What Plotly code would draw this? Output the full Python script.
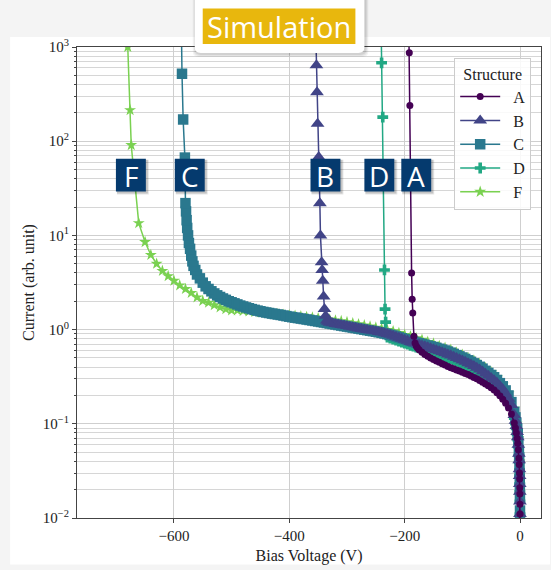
import plotly.graph_objects as go

# ---------------- data ----------------
LOWV = [-0.01, -0.05, -0.1, -0.2, -0.35, -0.5, -0.75, -1, -1.5, -2, -3, -4, -5, -6.5, -8]

A_v = LOWV + [-10, -15, -20, -25, -30, -35, -40, -45, -50, -55, -60, -65, -70, -75, -80, -85, -90,
              -95, -100, -105, -110, -115, -120, -125, -130, -135, -140, -145, -150, -155, -160,
              -165, -170, -175, -178, -180, -182, -184, -186, -187, -188, -191, -192, -193]
A_i = [0.005, 0.008, 0.011, 0.014, 0.018, 0.021, 0.026, 0.03, 0.037, 0.043, 0.053, 0.062, 0.07,
       0.08, 0.09,
       0.102, 0.127, 0.147, 0.165, 0.182, 0.198, 0.213, 0.228, 0.241, 0.253, 0.265, 0.276, 0.288,
       0.3, 0.311, 0.322, 0.333, 0.343, 0.353, 0.363, 0.373, 0.383, 0.394, 0.406, 0.42, 0.434,
       0.449, 0.465, 0.481, 0.5, 0.52, 0.545, 0.575, 0.61, 0.64, 0.67, 0.72, 0.85, 1.5, 2.1, 4.0,
       240, 870, 2000]

B_v = LOWV + [-10, -15, -20, -25, -30, -35, -40, -45, -50, -55, -60, -65, -70, -75, -80, -85, -90,
              -95, -100, -105, -110, -115, -120, -125, -130, -135, -140, -145, -150, -155, -160,
              -165, -170, -175, -180, -185, -190, -195, -200, -205, -210, -215, -220, -225, -230,
              -235, -240, -245, -250, -255, -260, -265, -270, -275, -280, -285, -290, -295, -300,
              -305, -310, -315, -320, -325, -330, -333, -335, -337, -339, -340.5, -342, -343, -344,
              -346, -347, -349, -351, -352, -353, -354]
B_i = [0.005, 0.008, 0.011, 0.015, 0.019, 0.023, 0.028, 0.033, 0.041, 0.048, 0.06, 0.072, 0.082,
       0.095, 0.108,
       0.124, 0.158, 0.185, 0.21, 0.232, 0.252, 0.272, 0.29, 0.307, 0.323, 0.34, 0.36, 0.377,
       0.393, 0.41, 0.425, 0.44, 0.455, 0.47, 0.485, 0.5, 0.515, 0.53, 0.545, 0.56, 0.575, 0.59,
       0.605, 0.62, 0.635, 0.65, 0.665, 0.68, 0.695, 0.71, 0.725, 0.74, 0.76, 0.78, 0.8, 0.82,
       0.84, 0.86, 0.88, 0.9, 0.915, 0.93, 0.945, 0.96, 0.97, 0.98, 0.99, 1.0, 1.015, 1.03,
       1.045, 1.06, 1.075, 1.09, 1.105, 1.12, 1.135, 1.15, 1.165, 1.18, 1.21, 1.25, 1.4, 1.65,
       2.25, 3.3, 4.3, 5.2, 10, 22, 68, 153, 330, 640, 1300]

C_v = LOWV + [-10, -15, -20, -25, -30, -35, -40, -45, -50, -55, -60, -65, -70, -75, -80, -85, -90,
              -95, -100, -105, -110, -115, -120, -125, -130, -135, -140, -145, -150, -155, -160,
              -165, -170, -175, -180, -185, -190, -195, -200, -205, -210, -215, -220, -225, -230,
              -235, -240, -245, -250, -255, -260, -265, -270, -275, -280, -285, -290, -295, -300,
              -305, -310, -315, -320, -325, -330, -335, -340, -345, -350, -355, -360, -365, -370,
              -375, -380, -385, -390, -395, -400, -405, -410, -415, -420, -425, -430, -435, -440,
              -445, -450, -455, -460, -465, -470, -475, -480, -485, -490, -495, -500, -505, -510,
              -515, -520, -525, -530, -535, -540, -545, -550, -555, -560, -563, -566, -568, -570,
              -572, -574, -575.5, -577, -578, -579, -580, -581, -584, -586, -587, -588]
C_i = [0.006, 0.009, 0.012, 0.016, 0.021, 0.025, 0.03, 0.036, 0.044, 0.052, 0.065, 0.078, 0.089,
       0.103, 0.117,
       0.134, 0.17, 0.2, 0.226, 0.25, 0.27, 0.292, 0.312, 0.33, 0.347, 0.365, 0.385, 0.403, 0.42,
       0.438, 0.455, 0.472, 0.488, 0.505, 0.52, 0.536, 0.552, 0.568, 0.584, 0.6, 0.613, 0.626,
       0.64, 0.652, 0.664, 0.677, 0.69, 0.703, 0.716, 0.729, 0.742, 0.758, 0.775, 0.793, 0.81,
       0.828, 0.846, 0.864, 0.88, 0.895, 0.91, 0.924, 0.937, 0.95, 0.962, 0.974, 0.986, 0.999,
       1.012, 1.025, 1.038, 1.051, 1.064, 1.077, 1.09, 1.104, 1.118, 1.132, 1.146, 1.16, 1.175,
       1.19, 1.205, 1.22, 1.235, 1.25, 1.265, 1.28, 1.295, 1.31, 1.325, 1.34, 1.355, 1.372, 1.39,
       1.41, 1.43, 1.446, 1.463, 1.48, 1.5, 1.52, 1.54, 1.565, 1.59, 1.62, 1.65, 1.685, 1.72,
       1.76, 1.8, 1.85, 1.9, 1.95, 2.0, 2.07, 2.14, 2.22, 2.31, 2.42, 2.55, 2.7, 2.88, 3.15, 3.5,
       3.85, 4.3, 4.75, 5.3, 6.1, 7.2, 8.3, 10, 12, 14.5, 18, 22, 67, 170, 520, 1500]

D_v = LOWV + [-10, -15, -20, -25, -30, -35, -40, -45, -50, -55, -60, -65, -70, -75, -80, -85, -90,
              -95, -100, -105, -110, -115, -120, -125, -130, -135, -140, -145, -150, -155, -160,
              -165, -170, -175, -180, -185, -190, -195, -200, -205, -210, -215, -220, -225, -230,
              -232, -233, -234, -235, -238, -240, -241]
D_i = [0.005, 0.008, 0.011, 0.015, 0.019, 0.023, 0.028, 0.032, 0.039, 0.046, 0.057, 0.068, 0.077,
       0.089, 0.1,
       0.115, 0.146, 0.171, 0.194, 0.214, 0.232, 0.25, 0.267, 0.283, 0.298, 0.313, 0.331, 0.347,
       0.362, 0.377, 0.391, 0.405, 0.419, 0.432, 0.446, 0.46, 0.474, 0.488, 0.501, 0.515, 0.529,
       0.543, 0.557, 0.57, 0.584, 0.598, 0.612, 0.626, 0.64, 0.653, 0.667, 0.681, 0.7, 0.718,
       0.736, 0.754, 0.773, 0.791, 0.81, 0.83, 0.88, 1.2, 1.65, 4.3, 180, 680, 2000]

F_v = [-0.02, -0.2, -1, -3, -6, -10, -20, -30, -40, -50, -60, -70, -80, -90, -100, -110, -120,
       -130, -140, -150, -160, -170, -180, -190, -200, -210, -220, -230, -240, -250, -260, -270,
       -280, -290, -300, -310, -320, -330, -340, -350, -360, -370, -380, -390, -400, -410, -420,
       -430, -440, -450, -460, -470, -480, -490, -500, -510, -520, -530, -540, -550, -560, -570,
       -580, -590, -600, -610, -620, -630, -640, -650, -661, -674, -676, -680]
F_i = [0.006, 0.017, 0.04, 0.07, 0.1, 0.145, 0.21, 0.26, 0.31, 0.35, 0.39, 0.43, 0.47, 0.5, 0.54,
       0.57, 0.61, 0.64, 0.67, 0.71, 0.74, 0.78, 0.81, 0.85, 0.88, 0.92, 0.96, 0.99, 1.02, 1.05,
       1.08, 1.11, 1.14, 1.17, 1.2, 1.23, 1.25, 1.28, 1.3, 1.32, 1.34, 1.36, 1.38, 1.4, 1.42,
       1.44, 1.46, 1.48, 1.5, 1.52, 1.54, 1.56, 1.58, 1.6, 1.6, 1.65, 1.72, 1.82, 1.93, 2.02, 2.2,
       2.45, 2.7, 2.95, 3.3, 3.7, 4.2, 5.0, 6.2, 8.5, 13.5, 91, 214, 1000]

names = ["A", "B", "C", "D", "F"]
colors = {"A": "#440154", "B": "#414487", "C": "#2a788e", "D": "#22a884", "F": "#7ad151"}
symbols = {"A": "circle", "B": "triangle-up", "C": "square", "D": "cross", "F": "star"}
msize = {"A": 7, "B": 12, "C": 10.5, "D": 9, "F": 9}
series = {"A": (A_v, A_i), "B": (B_v, B_i), "C": (C_v, C_i), "D": (D_v, D_i), "F": (F_v, F_i)}

x_ticks = [-600, -400, -200, 0]
x_ticktext = ["\u2212600", "\u2212400", "\u2212200", "0"]
y_ticks = [0.01, 0.1, 1, 10, 100, 1000]
y_ticktext = ["10<sup>\u22122</sup>", "10<sup>\u22121</sup>", "10<sup>0</sup>",
              "10<sup>1</sup>", "10<sup>2</sup>", "10<sup>3</sup>"]

SERIF = "Liberation Serif, DejaVu Serif, serif"
SANS = "Open Sans, Noto Sans, sans-serif"

fig = go.Figure()
for n in ["F", "D", "C", "B", "A"]:
    v, i = series[n]
    fig.add_trace(go.Scatter(
        x=v, y=i, name="\u2002" + n, mode="lines+markers",
        line=dict(color=colors[n], width=1.5),
        marker=dict(symbol=symbols[n], size=msize[n], color=colors[n], line=dict(width=0)),
    ))

# ---------------- layout geometry (pixels -> paper) ----------------
L, R, T, B = 77, 542, 47, 523
def px(x):
    return (x - L) / (R - L)
def py(y):
    return (B - y) / (B - T)

shapes = []
shapes.append(dict(type="rect", xref="paper", yref="paper", x0=px(10), x1=px(551),
                   y0=py(37), y1=py(570), fillcolor="white", line=dict(width=0), layer="below"))

def rrect_path(x0, y0, x1, y1, r):
    X = lambda a: f"{px(a):.5f}"
    Y = lambda b: f"{py(b):.5f}"
    return (f"M {X(x0+r)},{Y(y0)} L {X(x1-r)},{Y(y0)} Q {X(x1)},{Y(y0)} {X(x1)},{Y(y0+r)} "
            f"L {X(x1)},{Y(y1-r)} Q {X(x1)},{Y(y1)} {X(x1-r)},{Y(y1)} "
            f"L {X(x0+r)},{Y(y1)} Q {X(x0)},{Y(y1)} {X(x0)},{Y(y1-r)} "
            f"L {X(x0)},{Y(y0+r)} Q {X(x0)},{Y(y0)} {X(x0+r)},{Y(y0)} Z")

for k, a in [(4, 0.05), (3, 0.06), (2, 0.08)]:
    shapes.append(dict(type="path", xref="paper", yref="paper",
                       path=rrect_path(195 - k + 2, -10, 365 + k, 53 + k, 6),
                       fillcolor=f"rgba(0,0,0,{a})", line=dict(width=0), layer="above"))
shapes.append(dict(type="path", xref="paper", yref="paper", path=rrect_path(195, -10, 365, 53, 6),
                   fillcolor="white", line=dict(width=0), layer="above"))
shapes.append(dict(type="rect", xref="paper", yref="paper", x0=px(203), x1=px(356),
                   y0=py(8), y1=py(44), fillcolor="#e8b70d", line=dict(width=0), layer="above"))

letters = [("F", 116), ("C", 175), ("B", 311), ("D", 365), ("A", 402)]
annotations = []
for lab, x0 in letters:
    for k, a in [(3, 0.10), (2, 0.15)]:
        shapes.append(dict(type="rect", xref="paper", yref="paper", x0=px(x0 + 1), x1=px(x0 + 30 + k),
                           y0=py(160 + 1), y1=py(193 + k), fillcolor=f"rgba(0,0,0,{a})",
                           line=dict(width=0), layer="above"))
    shapes.append(dict(type="rect", xref="paper", yref="paper", x0=px(x0), x1=px(x0 + 30),
                       y0=py(160), y1=py(193), fillcolor="#053a6e", line=dict(width=0), layer="above"))
    annotations.append(dict(text=lab, xref="paper", yref="paper", x=px(x0 + 15), y=py(177),
                            xanchor="center", yanchor="middle", showarrow=False,
                            font=dict(family=SANS, size=28, color="white")))

annotations.append(dict(text="Simulation", xref="paper", yref="paper", x=px(279.5), y=py(26),
                        xanchor="center", yanchor="middle", showarrow=False,
                        font=dict(family=SANS, size=29, color="white")))

fig.update_layout(
    width=551, height=570,
    margin=dict(l=L, r=551 - R, t=T, b=570 - B, pad=0),
    paper_bgcolor="#f4f4f4", plot_bgcolor="white",
    font=dict(family=SERIF, size=15, color="#222222"),
    shapes=shapes, annotations=annotations,
    showlegend=True,
    legend=dict(title=dict(text="Structure", font=dict(family=SERIF, size=16), side="top center"),
                x=px(455), y=py(58), xanchor="left", yanchor="top",
                traceorder="reversed", bgcolor="rgba(255,255,255,0.85)",
                bordercolor="#cccccc", borderwidth=1,
                font=dict(family=SERIF, size=16), itemwidth=40),
    xaxis=dict(range=[-768, 36.3], tickvals=x_ticks, ticktext=x_ticktext,
               showgrid=True, gridcolor="#cfcfcf", gridwidth=1, zeroline=False,
               showline=True, linecolor="#444444", linewidth=1, mirror=True,
               ticks="outside", ticklen=4, tickcolor="#444444",
               title=dict(text="Bias Voltage (V)", font=dict(family=SERIF, size=16), standoff=6),
               tickfont=dict(family=SERIF, size=15)),
    yaxis=dict(type="log", range=[-2, 3], tickvals=y_ticks, ticktext=y_ticktext,
               showgrid=True, gridcolor="#cfcfcf", gridwidth=1, zeroline=False,
               showline=True, linecolor="#444444", linewidth=1, mirror=True,
               ticks="outside", ticklen=4, tickcolor="#444444",
               minor=dict(ticks="outside", ticklen=2, tickcolor="#444444", showgrid=True,
                          gridcolor="#d6d6d6", gridwidth=1, dtick="D1"),
               title=dict(text="Current (arb. unit)", font=dict(family=SERIF, size=16), standoff=4),
               tickfont=dict(family=SERIF, size=15)),
)

fig.write_html("out.html")
